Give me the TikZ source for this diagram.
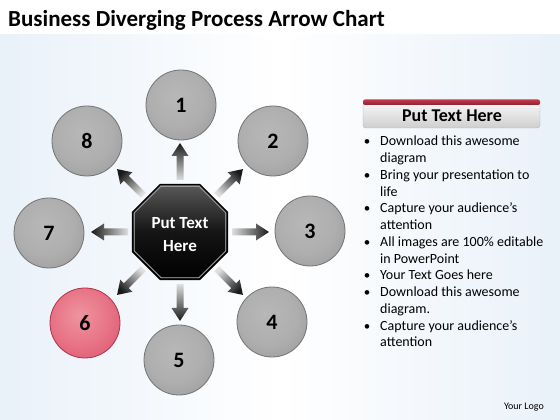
\documentclass[tikz,border=0pt]{standalone}
\usepackage{fontspec}
\setmainfont{Carlito}
\usetikzlibrary{shapes.geometric}
\definecolor{bgblue}{HTML}{E9F1F9}
\definecolor{bandred}{HTML}{C23A4C}
\definecolor{banddark}{HTML}{8E2030}
\definecolor{pk0}{HTML}{EE94A0}
\definecolor{pk1}{HTML}{E87486}
\definecolor{pk2}{HTML}{DC566E}
\definecolor{pk3}{HTML}{C63E56}
\definecolor{pkrim}{HTML}{B03048}
\pgfdeclareradialshading{grayball}{\pgfpoint{-4bp}{6bp}}{%
  color(0bp)=(gray!56); color(20bp)=(gray!63); color(36bp)=(gray!78); color(48bp)=(gray!98); color(70bp)=(gray!100)}
\pgfdeclareradialshading{pinkball}{\pgfpoint{-4bp}{6bp}}{%
  color(0bp)=(pk0); color(20bp)=(pk1); color(36bp)=(pk2); color(48bp)=(pk3); color(70bp)=(pk3)}
\tikzset{
  numball/.style={circle, minimum size=70pt, inner sep=0pt, shading=grayball, draw=black!55, line width=0.8pt,
    font=\bfseries\fontsize{22}{26}\selectfont},
  pinkballstyle/.style={numball, shading=pinkball, draw=pkrim},
  bullettext/.style={anchor=base west, inner sep=0pt, font=\fontsize{14}{16.75}\selectfont},
  bulletdot/.style={anchor=base, inner sep=0pt, font=\fontsize{13}{16.75}\selectfont}
}
\begin{document}
\begin{tikzpicture}[x=1pt,y=1pt]
\useasboundingbox (0,0) rectangle (560,420);
\fill[white] (0,0) rectangle (560,420);
\shade[left color=bgblue, right color=bgblue, middle color=white] (0,0) rectangle (560,385);
\node[anchor=base west, inner sep=0pt, font=\bfseries\fontsize{23}{27}\selectfont] (title) at (8,393) {Business Diverging Process Arrow Chart};

% centre octagon
\node[regular polygon, regular polygon sides=8, minimum size=103pt, inner sep=0pt,
  top color=gray!70!black, bottom color=black, middle color=black!92, draw=black, line width=1.2pt] (oct) at (180,188) {};
\node[regular polygon, regular polygon sides=8, minimum size=99pt, inner sep=0pt,
  draw=gray!55, line width=0.6pt] (octrim) at (oct.center) {};
\node[text=white, align=center, font=\bfseries\fontsize{17}{23}\selectfont] (octtext) at ([yshift=-3pt]oct.center) {Put Text\\Here};

% arrows
\foreach \a in {90,45,0,-45,-90,-135,180,135}{
  \pgfmathsetmacro\sa{90+\a}
  \begin{scope}[shift={(oct.center)}, rotate=\a]
    \shade[left color=gray!25, right color=gray!20!black, shading angle=\sa]
      (52,-3.5) -- (76,-3.5) -- (76,-8.5) -- (89,0) -- (76,8.5) -- (76,3.5) -- (52,3.5) -- cycle;
  \end{scope}
}

% numbered balls
\node[numball] (c1) at (181,315) {1};
\node[numball] (c2) at (273,279) {2};
\node[numball] (c3) at (310,189) {3};
\node[numball] (c4) at (272,98) {4};
\node[numball] (c5) at (179,60) {5};
\node[pinkballstyle] (c6) at (85,97) {6};
\node[numball] (c7) at (49,187) {7};
\node[numball] (c8) at (87,279) {8};

% right panel header
\shade[top color=gray!6, bottom color=gray!38, draw=gray!60, rounded corners=3pt] (363,292) rectangle (540,318);
\shade[top color=bandred, bottom color=banddark, rounded corners=2pt] (363,315) rectangle (540,320.5);
\node[font=\bfseries\fontsize{18}{21}\selectfont] (head) at (452,304.5) {Put Text Here};

% bullets
\foreach \k in {0,2,4,6,8,9,11}{
  \node[bulletdot] (b\k) at (367,{274-16.75*\k}) {•};
}
\foreach \k/\t in {0/{Download this awesome}, 1/{diagram},
                   2/{Bring your presentation to}, 3/{life},
                   4/{Capture your audience’s}, 5/{attention},
                   6/{All images are 100\% editable}, 7/{in PowerPoint},
                   8/{Your Text Goes here},
                   9/{Download this awesome}, 10/{diagram.},
                   11/{Capture your audience’s}, 12/{attention}}{
  \node[bullettext] (t\k) at (380,{274-16.75*\k}) {\t};
}

\node[anchor=base east, inner sep=0pt, font=\fontsize{10}{12}\selectfont] (logo) at (544,10) {Your Logo};
\end{tikzpicture}
\end{document}
